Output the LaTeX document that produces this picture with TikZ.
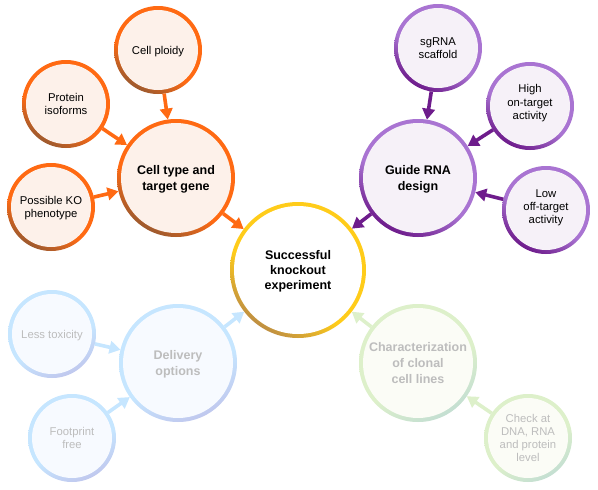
\documentclass[tikz,border=0pt]{standalone}
\usepackage{fontspec}
\setmainfont{Liberation Sans}
\usetikzlibrary{arrows.meta,calc}
\definecolor{orM}{HTML}{FF6A13}
\definecolor{orD}{HTML}{9E5A2E}
\definecolor{orF}{HTML}{FDF1EA}
\definecolor{puM}{HTML}{A974D2}
\definecolor{puD}{HTML}{6E1C8C}
\definecolor{puF}{HTML}{F6F1F8}
\definecolor{yeM}{HTML}{FFCC1A}
\definecolor{yeD}{HTML}{BF8F42}
\definecolor{blM}{HTML}{C6E6FF}
\definecolor{blD}{HTML}{C0C8EE}
\definecolor{blF}{HTML}{F7FAFF}
\definecolor{grM}{HTML}{DDF0CA}
\definecolor{grD}{HTML}{C4DFD2}
\definecolor{grF}{HTML}{FBFCF6}
\definecolor{fadetxt}{HTML}{BDBDBD}
\pgfdeclareverticalshading{ringor}{100bp}{color(0bp)=(orD); color(25bp)=(orD); color(42bp)=(orM); color(100bp)=(orM)}
\pgfdeclareverticalshading{ringpu}{100bp}{color(0bp)=(puD); color(25bp)=(puD); color(45bp)=(puM); color(100bp)=(puM)}
\pgfdeclareverticalshading{ringye}{100bp}{color(0bp)=(yeD); color(25bp)=(yeD); color(42bp)=(yeM); color(100bp)=(yeM)}
\pgfdeclareverticalshading{ringbl}{100bp}{color(0bp)=(blD); color(25bp)=(blD); color(45bp)=(blM); color(100bp)=(blM)}
\pgfdeclareverticalshading{ringgr}{100bp}{color(0bp)=(grD); color(25bp)=(grD); color(45bp)=(grM); color(100bp)=(grM)}
\tikzset{
  ringnode/.style n args={3}{circle, inner sep=0pt, outer sep=0pt, align=center, fill=#3,
    path picture={
      \shade[shading=#1, shading angle=#2] (path picture bounding box.south west) rectangle (path picture bounding box.north east);
      \fill[#3] let \p1=(path picture bounding box.center), \p2=(path picture bounding box.east) in (\p1) circle[radius=\x2-\x1-4pt];
    }},
  orc/.style={ringnode={ringor}{-30}{orF}},
  puc/.style={ringnode={ringpu}{-30}{puF}},
  yec/.style={ringnode={ringye}{-35}{white}},
  blc/.style={ringnode={ringbl}{25}{blF}, text=fadetxt},
  grc/.style={ringnode={ringgr}{30}{grF}, text=fadetxt},
  small/.style={minimum size=88pt, font=\fontsize{11.3}{13.2}\selectfont, text depth=-2pt},
  mid/.style={minimum size=118pt, font=\bfseries\fontsize{12.5}{15.5}\selectfont, text depth=-2pt},
  big/.style={minimum size=136pt, font=\bfseries\fontsize{12.5}{15}\selectfont, text depth=0pt},
  arr/.style={line width=3.6pt, -{Triangle[length=11pt,width=12.5pt]}},
  orarr/.style={arr, draw=orM},
  puarr/.style={arr, draw=puD},
  blarr/.style={arr, draw=blM},
  grarr/.style={arr, draw=grM},
}
\begin{document}
\begin{tikzpicture}[x=1pt,y=-1pt]
\useasboundingbox (0,0) rectangle (598,490);
\node[orc, mid] (cell) at (176,178) {Cell type and\\target gene};
\node[orc, small] (ploidy) at (158,50) {Cell ploidy};
\node[orc, small] (iso) at (66,104) {Protein\\isoforms};
\node[orc, small, text depth=-5pt] (ko) at (51,207) {Possible KO\\phenotype};
\node[puc, mid] (guide) at (418,178) {Guide RNA\\design};
\node[puc, small] (sg) at (438,48) {sgRNA\\scaffold};
\node[puc, small, text depth=8pt] (high) at (530,106) {High\\on-target\\activity};
\node[puc, small, text depth=7pt] (low) at (546,210) {Low\\off-target\\activity};
\node[yec, big] (succ) at (298,270) {Successful\\knockout\\experiment};
\node[blc, mid, text depth=0pt] (deliv) at (178,363) {Delivery\\options};
\node[blc, small] (tox) at (52,334) {Less toxicity};
\node[blc, small] (foot) at (72,438) {Footprint\\free};
\node[grc, mid, font=\bfseries\fontsize{12.5}{16}\selectfont, text depth=-13pt] (char) at (418,363) {Characterization\\of clonal\\cell lines};
\node[grc, small] (check) at (528,438) {Check at\\DNA, RNA\\and protein\\level};
\draw[orarr] (ploidy) -- (cell);
\draw[orarr] (iso) -- (cell);
\draw[orarr] (ko) -- (cell);
\draw[orarr] (cell) -- (succ);
\draw[puarr] (sg) -- (guide);
\draw[puarr] (high) -- (guide);
\draw[puarr] (low) -- (guide);
\draw[puarr] (guide) -- (succ);
\draw[blarr] (tox) -- (deliv);
\draw[blarr] (foot) -- (deliv);
\draw[blarr] (deliv) -- (succ);
\draw[grarr] (check) -- (char);
\draw[grarr] (char) -- (succ);
\end{tikzpicture}
\end{document}
